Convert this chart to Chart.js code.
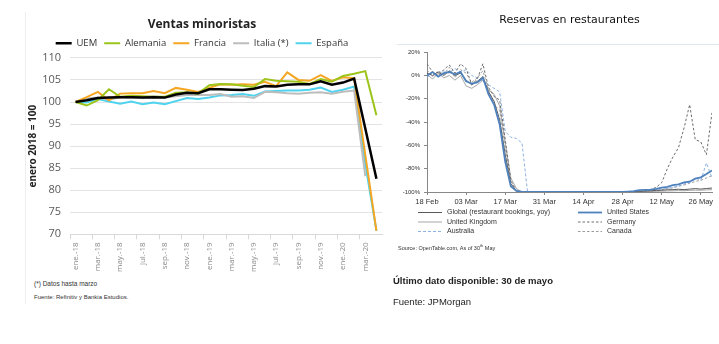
<!DOCTYPE html>
<html>
<head>
<meta charset="utf-8">
<script src="https://cdn.jsdelivr.net/npm/chart.js@4.4.1/dist/chart.umd.min.js"></script>
<style>
    body { margin: 0; background: #fff; width: 719px; height: 344px; overflow: hidden; position: relative; font-family: "Open Sans", sans-serif; }
    #ventas { position: absolute; left: 0; top: 0; }
    #reservas { position: absolute; left: 385px; top: 0; }
    .nota { position: absolute; left: 34px; font-family: "Liberation Sans", sans-serif; font-size: 6.5px; color: #333; white-space: nowrap; }
    .fuente { position: absolute; left: 393px; font-family: "Liberation Sans", sans-serif; font-size: 9.5px; color: #222; white-space: nowrap; }
    .raya-v { position: absolute; left: 25px; top: 12px; width: 1px; height: 292px; background: #eeeeee; }
    .raya-h { position: absolute; left: 397px; top: 44px; width: 322px; height: 1px; background: #e1e8f0; }
</style>
</head>
<body>
<div class="raya-v"></div>
<div class="raya-h"></div>
<canvas id="ventas" width="390" height="275"></canvas>
<canvas id="reservas" width="334" height="262"></canvas>
<div class="nota" style="top:280px">(*) Datos hasta marzo</div>
<div class="nota" style="top:294px;font-size:6px">Fuente: Refinitiv y Bankia Estudios.</div>
<div class="fuente" style="top:243px;left:398px;font-size:5.5px;color:#333">Source: OpenTable.com, As of 30<sup style="font-size:4px">th</sup> May</div>
<div class="fuente" style="top:275px;font-weight:bold">Último dato disponible: 30 de mayo</div>
<div class="fuente" style="top:296px">Fuente: JPMorgan</div>

<script>
// ---- Ventas minoristas (enero 2018 = 100) ----
var meses = ['ene.-18', 'feb.-18', 'mar.-18', 'abr.-18', 'may.-18', 'jun.-18', 'jul.-18', 'ago.-18', 'sep.-18', 'oct.-18', 'nov.-18', 'dic.-18',
    'ene.-19', 'feb.-19', 'mar.-19', 'abr.-19', 'may.-19', 'jun.-19', 'jul.-19', 'ago.-19', 'sep.-19', 'oct.-19', 'nov.-19', 'dic.-19',
    'ene.-20', 'feb.-20', 'mar.-20', 'abr.-20'];

var uem = [100, 100.4, 100.9, 101.0, 101.1, 101.1, 101.0, 101.1, 101.0, 101.7, 102.1, 102.0, 102.9, 102.9,
    102.8, 102.7, 103.0, 103.6, 103.5, 103.9, 104.0, 104.0, 104.7, 103.9, 104.4, 105.3, 94.0, 82.6];
var alemania = [100, 99.2, 100.4, 102.9, 101.2, 101.4, 101.3, 101.2, 101.2, 102.1, 102.2, 101.9, 103.8, 104.1,
    104.0, 103.7, 103.4, 105.2, 104.8, 104.7, 104.6, 104.1, 105.2, 104.6, 105.9, 106.4, 107.0, 97.0];
var francia = [100, 101.1, 102.3, 100.4, 101.9, 102.0, 102.0, 102.5, 102.0, 103.2, 102.8, 102.3, 103.2, 104.0,
    103.9, 104.0, 103.9, 104.6, 103.6, 106.7, 105.0, 104.8, 106.1, 104.8, 105.6, 105.4, 88.0, 70.8];
var italia = [100, 100.8, 101.0, 100.5, 101.1, 101.0, 101.0, 101.3, 101.0, 101.3, 101.6, 101.6, 101.6, 101.8,
    101.2, 101.3, 100.9, 102.3, 102.2, 102.0, 101.9, 102.1, 102.2, 101.9, 102.3, 102.6, 83.2, null];
var espana = [100, 99.9, 100.7, 100.1, 99.6, 100.1, 99.5, 99.9, 99.5, 100.2, 100.9, 100.7, 101.0, 101.5,
    101.6, 101.8, 101.4, 102.4, 102.5, 102.6, 102.6, 102.8, 103.3, 102.3, 102.8, 103.5, 86.0, 70.8];

// ---- Reservas en restaurantes (% a/a, días desde el 18 feb) ----
var dias = [0, 2, 4, 6, 8, 10, 12, 14, 16, 18, 20, 22, 24, 26, 28, 30, 32, 34, 36, 38, 40, 42, 44, 46, 48, 50,
    52, 54, 56, 58, 60, 62, 64, 66, 68, 70, 72, 74, 76, 78, 80, 82, 84, 86, 88, 90, 92, 94, 96, 98, 100, 102];
var diasEtiqueta = [0, 14, 28, 42, 56, 70, 84, 98];
var fechas = ['18 Feb', '03 Mar', '17 Mar', '31 Mar', '14 Apr', '28 Apr', '12 May', '26 May'];

var global = [2, 0, 3, 0, 4, 0, 2, -4, -8, -5, -1, -14, -22, -38, -68, -93, -99, -100,
    -100, -100, -100, -100, -100, -100, -100, -100, -100, -100, -100, -100, -100, -100, -100, -100, -100, -100,
    -100, -99.6, -99.5, -99.2, -99, -98.6, -98.5, -98.1, -98, -97.6, -98, -97.5, -97.1, -97.5, -97, -96.6];
var unitedStates = [0, 3, -1, 2, 3, 1, 3, -5, -7, -6, -2, -16, -25, -42, -74, -95, -99, -100,
    -100, -100, -100, -100, -100, -100, -100, -100, -100, -100, -100, -100, -100, -100, -100, -100, -100, -100,
    -99.6, -99.2, -98.4, -98.1, -97.9, -97.3, -96.2, -95.6, -94.1, -93.5, -91.8, -91.2, -88.5, -87.4, -84.6, -81.5];
var unitedKingdom = [1, -3, 2, -2, 0, -4, 0, -9, -11, -8, -4, -12, -16, -26, -58, -88, -97, -100,
    -100, -100, -100, -100, -100, -100, -100, -100, -100, -100, -100, -100, -100, -100, -100, -100, -100, -100,
    -100, -100, -99.8, -99.7, -99.6, -99.4, -99.3, -99.1, -99, -98.8, -98.9, -98.6, -98.4, -98.5, -98.2, -98];
var germany = [10, 3, 0, 5, 9, 2, 10, 6, -8, -3, 10, -10, -18, -21, -55, -90, -99, -100,
    -100, -100, -100, -100, -100, -100, -100, -100, -100, -100, -100, -100, -100, -100, -100, -100, -100, -100,
    -100, -100, -100, -99, -98, -96, -92, -80, -70, -62, -45, -25, -55, -57, -68, -32];
var australia = [-2, 3, 0, 4, 2, 6, 3, 5, 0, -2, -5, -8, -11, -14, -48, -53, -54, -58, -100,
    -100, -100, -100, -100, -100, -100, -100, -100, -100, -100, -100, -100, -100, -100, -100, -100, -100,
    -100, -99.5, -99, -99, -98.5, -98, -97.5, -97, -96, -95, -93, -92, -88, -90, -75, -88];
var canada = [5, -1, 4, 1, 7, -2, 5, 2, -6, -2, 4, -12, -25, -30, -62, -92, -99, -100,
    -100, -100, -100, -100, -100, -100, -100, -100, -100, -100, -100, -100, -100, -100, -100, -100, -100, -100,
    -100, -100, -99.8, -99.5, -99, -98.6, -98, -97, -96.5, -95, -94, -92.5, -91, -90, -88, -86];

function serie(valores) {
    return valores.map(function (v, i) { return { x: dias[i], y: v }; });
}

var ctxVentas = document.getElementById('ventas').getContext('2d');
var ctxReservas = document.getElementById('reservas').getContext('2d');

var ventasChart = new Chart(ctxVentas, {
    type: 'line',
    data: {
        labels: meses,
        datasets: [
            { label: 'UEM', data: uem, borderColor: '#000000', backgroundColor: '#000000', borderWidth: 2.5 },
            { label: 'Alemania', data: alemania, borderColor: '#9cc41a', backgroundColor: '#9cc41a', borderWidth: 2 },
            { label: 'Francia', data: francia, borderColor: '#f5a623', backgroundColor: '#f5a623', borderWidth: 2 },
            { label: 'Italia (*)', data: italia, borderColor: '#bdbdbd', backgroundColor: '#bdbdbd', borderWidth: 2 },
            { label: 'España', data: espana, borderColor: '#4fd3ee', backgroundColor: '#4fd3ee', borderWidth: 2 }
        ]
    },
    options: {
        responsive: false,
        animation: false,
        layout: { padding: { left: 22, right: 8, top: 0, bottom: 0 } },
        elements: { point: { radius: 0 }, line: { tension: 0 } },
        plugins: {
            title: {
                display: true,
                text: 'Ventas minoristas',
                color: '#222',
                font: { family: 'Open Sans', size: 12, weight: 'bold' },
                padding: { top: 17, bottom: 0 }
            },
            legend: {
                labels: {
                    usePointStyle: true,
                    pointStyle: 'line',
                    pointStyleWidth: 16,
                    color: '#333',
                    padding: 7,
                    font: { family: 'Open Sans', size: 9.5 }
                }
            },
            tooltip: { enabled: false }
        },
        scales: {
            x: {
                offset: true,
                grid: {
                    offset: true,
                    drawOnChartArea: false,
                    tickLength: 5,
                    color: function (c) { return c.index % 2 === 0 ? '#d9d9d9' : 'rgba(0,0,0,0)'; }
                },
                border: { color: '#d9d9d9' },
                ticks: {
                    autoSkip: false,
                    minRotation: 90,
                    maxRotation: 90,
                    padding: 3,
                    color: '#8a8a8a',
                    font: { family: 'Open Sans', size: 8 },
                    callback: function (v, i) { return i % 2 === 0 ? meses[i] : ''; }
                }
            },
            y: {
                min: 70,
                max: 110,
                afterFit: function (scale) { scale.width = 48; },
                ticks: { stepSize: 5, padding: 9, color: '#595959', font: { family: 'Open Sans', size: 11 } },
                grid: { color: '#e3e3e3', drawTicks: false },
                border: { display: false },
                title: {
                    display: true,
                    text: 'enero 2018 = 100',
                    color: '#222',
                    font: { family: 'Open Sans', size: 10, weight: 'bold' },
                    padding: { top: 5, bottom: 0 }
                }
            }
        }
    }
});

// legend below the JPMorgan chart, two columns
var leyendaJP = {
    id: 'leyendaJP',
    afterDraw: function (chart) {
        var ctx = chart.ctx;
        var cols = [33, 193];
        var rows = [212.5, 222, 231.5];
        chart.data.datasets.forEach(function (ds, i) {
            var x = cols[i % 2], y = rows[Math.floor(i / 2)];
            ctx.save();
            ctx.strokeStyle = ds.borderColor;
            ctx.lineWidth = ds.borderWidth;
            ctx.setLineDash(ds.borderDash || []);
            ctx.beginPath();
            ctx.moveTo(x, y);
            ctx.lineTo(x + 24, y);
            ctx.stroke();
            ctx.setLineDash([]);
            ctx.fillStyle = '#333';
            ctx.font = '7px "Liberation Sans"';
            ctx.textBaseline = 'middle';
            ctx.fillText(ds.label, x + 29, y);
            ctx.restore();
        });
    }
};

var reservasChart = new Chart(ctxReservas, {
    type: 'line',
    data: {
        datasets: [
            { label: 'Global (restaurant bookings, yoy)', data: serie(global), borderColor: '#595959', borderWidth: 1, order: 2 },
            { label: 'United States', data: serie(unitedStates), borderColor: '#4f81bd', borderWidth: 1.8, order: 0 },
            { label: 'United Kingdom', data: serie(unitedKingdom), borderColor: '#a6a6a6', borderWidth: 1, order: 3 },
            { label: 'Germany', data: serie(germany), borderColor: '#6d6d6d', borderWidth: 1, borderDash: [2.5, 2], order: 1 },
            { label: 'Australia', data: serie(australia), borderColor: '#8db3e2', borderWidth: 1, borderDash: [3, 2], order: 4 },
            { label: 'Canada', data: serie(canada), borderColor: '#9a9a9a', borderWidth: 1, borderDash: [2.5, 2], order: 5 }
        ]
    },
    plugins: [leyendaJP],
    options: {
        responsive: false,
        animation: false,
        layout: { padding: { left: 16, right: 7, top: 0, bottom: 54 } },
        elements: { point: { radius: 0 }, line: { tension: 0 } },
        plugins: {
            title: {
                display: true,
                fullSize: false,
                text: 'Reservas en restaurantes',
                color: '#111',
                font: { family: 'DejaVu Sans', size: 11, weight: 'normal' },
                padding: { top: 14, bottom: 25 }
            },
            legend: { display: false },
            tooltip: { enabled: false }
        },
        scales: {
            x: {
                type: 'linear',
                min: 0,
                max: 102,
                grid: { drawOnChartArea: false, tickLength: 3, color: '#888' },
                border: { color: '#888' },
                ticks: {
                    stepSize: 14,
                    includeBounds: false,
                    maxRotation: 0,
                    padding: 2,
                    color: '#333',
                    font: { family: 'Liberation Sans', size: 7.5 },
                    callback: function (v) {
                        var k = diasEtiqueta.indexOf(v);
                        return k >= 0 ? fechas[k] : '';
                    }
                }
            },
            y: {
                min: -100,
                max: 20,
                afterFit: function (scale) { scale.width = 26; },
                grid: { drawOnChartArea: false, tickLength: 3, color: '#888' },
                border: { color: '#888' },
                ticks: {
                    stepSize: 20,
                    padding: 4,
                    color: '#333',
                    font: { family: 'Liberation Sans', size: 6 },
                    callback: function (v) { return v + '%'; }
                }
            }
        }
    }
});
</script>
</body>
</html>
